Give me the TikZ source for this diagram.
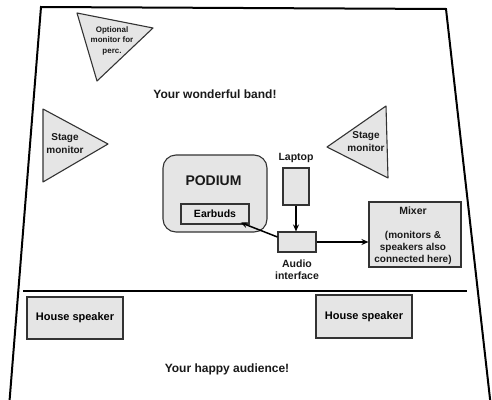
\documentclass[tikz,border=0pt]{standalone}
\usepackage{fontspec}
\setmainfont{Liberation Sans}
\usetikzlibrary{arrows.meta}
\begin{document}
\begin{tikzpicture}[x=1pt,y=-1pt,
  font=\bfseries\fontsize{10.5}{12.5}\selectfont,
  box/.style={draw=black!80, fill=gray!20, line width=1.1pt, inner sep=0pt},
  tri/.style={draw=black!80, fill=gray!20, line width=1.1pt, line join=round},
  lbl/.style={align=center, text=black!90, inner sep=0pt},
  conn/.style={line width=1.5pt, -{Stealth[length=7pt,width=6pt]}},
  big/.style={font=\bfseries\fontsize{12}{14}\selectfont}]
\useasboundingbox (0,0) rectangle (492,399);
\clip (0,0) rectangle (492,399);
% stage outline
\draw[line width=2pt, line join=miter] (9.2,405) -- (41,7) -- (446,9) -- (490.7,405);
\draw[line width=1.8pt] (23,291) -- (467,291);
% monitors
\draw[tri] (77,13) -- (153,28) -- (97,81) -- cycle;
\node[lbl, font=\bfseries\fontsize{8}{10.5}\selectfont] (optmon) at (112,40.5) {Optional\\monitor for\\perc.};
\draw[tri] (43,109) -- (108,144) -- (43,182) -- cycle;
\node[lbl, font=\bfseries\fontsize{10}{13}\selectfont] (smL) at (65,143.5) {Stage\\monitor};
\draw[tri] (386,106) -- (327,147) -- (388,178) -- cycle;
\node[lbl, font=\bfseries\fontsize{10}{13}\selectfont] (smR) at (366,142) {Stage\\monitor};
\node[lbl, big] (band) at (215,94) {Your wonderful band!};
% podium
\node[box, rounded corners=13pt, minimum width=104pt, minimum height=77pt] (podium) at (215,193.5) {};
\node[lbl, font=\bfseries\fontsize{14}{16}\selectfont] (podtxt) at (213.5,181) {PODIUM};
\node[box, minimum width=68pt, minimum height=20pt] (earbuds) at (215,214) {Earbuds};
% laptop and interface
\node[box, minimum width=26pt, minimum height=37pt] (laptop) at (296,186.5) {};
\node[lbl] (laptoplbl) at (296,158) {Laptop};
\node[box, minimum width=38pt, minimum height=20pt] (audio) at (297,242) {};
\node[lbl] (audiolbl) at (297,269.5) {Audio\\interface};
% mixer
\node[box, minimum width=92pt, minimum height=65pt] (mixer) at (415,234.5) {};
\node[lbl] (mixt) at (413,211) {Mixer};
\node[lbl, font=\bfseries\fontsize{10}{12}\selectfont] (mixd) at (413,248) {(monitors \&\\speakers also\\connected here)};
% connectors
\draw[conn] (laptop.south) -- (laptop.south |- audio.north);
\draw[conn] (audio.east) -- (mixer.west |- audio.east);
\draw[conn] ([yshift=5pt]audio.west) -- ([xshift=-9pt,yshift=2pt]earbuds.south east);
% audience
\node[box, minimum width=96pt, minimum height=42pt, font=\bfseries\fontsize{11}{13}\selectfont] (hsL) at (75,318) {House speaker};
\node[box, minimum width=96pt, minimum height=43pt, font=\bfseries\fontsize{11}{13}\selectfont] (hsR) at (364,316.5) {House speaker};
\node[lbl, big] (aud) at (227,369) {Your happy audience!};
\end{tikzpicture}
\end{document}
